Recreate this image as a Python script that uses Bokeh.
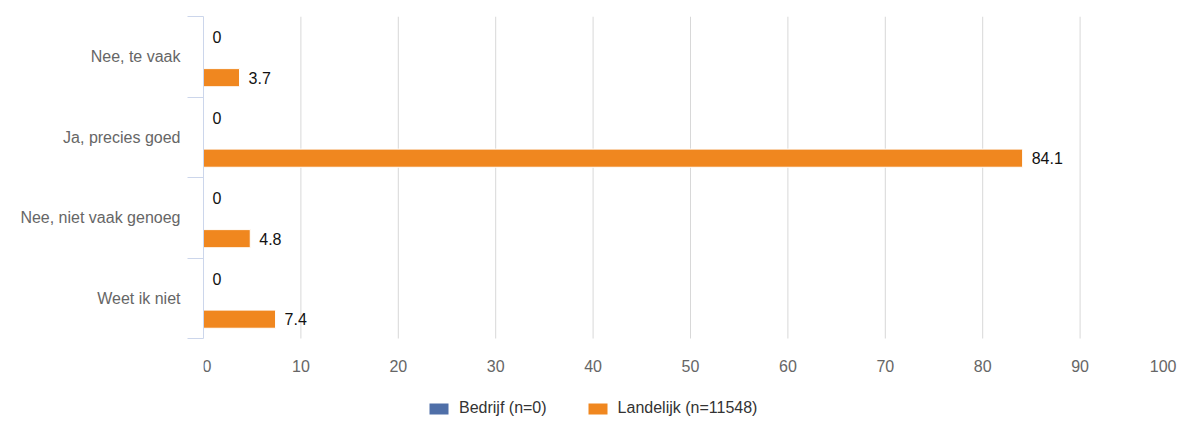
from bokeh.plotting import figure
from bokeh.models import FixedTicker, Legend, LegendItem, ColumnDataSource, Range1d
from bokeh.embed import file_html
from bokeh.resources import INLINE
from bokeh.core.properties import value

categories = ["Nee, te vaak", "Ja, precies goed", "Nee, niet vaak genoeg", "Weet ik niet"]
bedrijf = [0, 0, 0, 0]
landelijk = [3.7, 84.1, 4.8, 7.4]
series_names = ["Bedrijf (n=0)", "Landelijk (n=11548)"]
series_colors = ["#4f6fa8", "#f0871f"]
x_ticks = [0, 10, 20, 30, 40, 50, 60, 70, 80, 90, 100]

FONT = "Liberation Sans"
n = len(categories)
centers = [n - i - 0.5 for i in range(n)]

# layout constants (pixels)
W, H = 1177, 421
TOP, LEFT = 16, 203
BAR_AREA = 322          # height of the category area
below_px = H - TOP - BAR_AREA
y_low = -below_px * n / BAR_AREA   # extra room below the bars for tick labels and legend

p = figure(width=W, height=H, output_backend="svg", toolbar_location=None,
           x_range=Range1d(0, 100), y_range=Range1d(y_low, n),
           x_axis_location=None,
           min_border_left=LEFT, min_border_right=0, min_border_top=TOP, min_border_bottom=0)
p.outline_line_color = None
p.background_fill_color = "white"
p.border_fill_color = "white"
p.xgrid.visible = False
p.ygrid.visible = False

# vertical grid lines, only over the category area
p.segment(x0=x_ticks[1:], y0=[0] * (len(x_ticks) - 1), x1=x_ticks[1:], y1=[n] * (len(x_ticks) - 1),
          line_color="#d8d8d8", line_width=1)

offsets = [0.24, -0.26]
renderers = []
for vals, off, col in zip([bedrijf, landelijk], offsets, series_colors):
    ys = [c + off for c in centers]
    src = ColumnDataSource(dict(y=ys, right=vals, lab=[("%g" % v) for v in vals]))
    r = p.hbar(y="y", right="right", left=0, height=0.225, source=src,
               fill_color=col, line_color="white", line_width=1)
    renderers.append(r)
    p.text(x="right", y="y", text="lab", source=src, x_offset=9,
           text_baseline="middle", text_align="left",
           text_font=value(FONT), text_font_size="16px", text_color="#111111")

# x tick labels under the category area (edge labels kept inside the frame)
tick_style = dict(y_offset=27, text_baseline="middle", text_font=value(FONT),
                  text_font_size="16px", text_color="#666666")
p.text(x=x_ticks[:1], y=[0], text=[str(t) for t in x_ticks[:1]], text_align="left",
       x_offset=-1, **tick_style)
p.text(x=x_ticks[1:-1], y=[0] * (len(x_ticks) - 2), text=[str(t) for t in x_ticks[1:-1]],
       text_align="center", **tick_style)
p.text(x=x_ticks[-1:], y=[0], text=[str(t) for t in x_ticks[-1:]], text_align="right",
       x_offset=-1, **tick_style)

# category axis
p.yaxis.bounds = (0, n)
p.yaxis.ticker = FixedTicker(ticks=centers, minor_ticks=[0, 1, 2, 3, 4])
p.yaxis.major_label_overrides = {c: cat for c, cat in zip(centers, categories)}
p.yaxis.axis_line_color = "#ccd6eb"
p.yaxis.major_tick_line_color = None
p.yaxis.major_tick_out = 0
p.yaxis.major_tick_in = 0
p.yaxis.minor_tick_line_color = "#ccd6eb"
p.yaxis.minor_tick_out = 16
p.yaxis.minor_tick_in = 0
p.yaxis.major_label_text_font = FONT
p.yaxis.major_label_text_font_size = "16px"
p.yaxis.major_label_text_color = "#666666"
p.yaxis.major_label_standoff = 7

legend = Legend(items=[LegendItem(label=nm, renderers=[r]) for nm, r in zip(series_names, renderers)],
                orientation="horizontal", location=(223, 4))
legend.label_text_font = FONT
legend.label_text_font_size = "16px"
legend.label_text_color = "#333333"
legend.glyph_width = 25
legend.glyph_height = 15
legend.label_height = 15
legend.label_standoff = 8
legend.spacing = 38
legend.border_line_color = None
legend.background_fill_alpha = 0
legend.margin = 0
legend.padding = 0
p.add_layout(legend, "center")

open("out.html", "w").write(file_html(p, INLINE))
